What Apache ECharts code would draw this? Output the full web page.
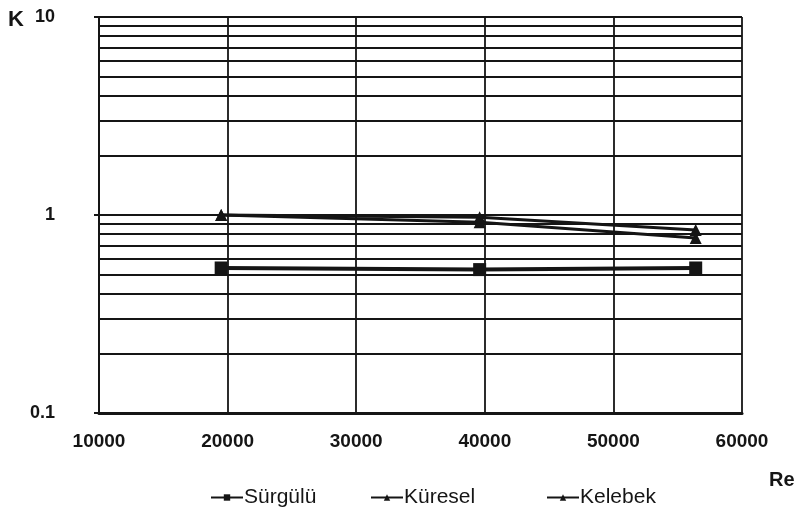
<!DOCTYPE html>
<html>
<head>
<meta charset="utf-8">
<script src="https://cdn.jsdelivr.net/npm/echarts@6/dist/echarts.min.js"></script>
<style>
  html, body { margin: 0; padding: 0; background: #fff; }
  #chart { width: 800px; height: 514px; }
</style>
</head>
<body>
<div id="chart"></div>
<script>
// Loss coefficient K against Reynolds number for three valve types
const reynolds = [19500, 39600, 56400];
const surgulu = [0.54, 0.53, 0.54];
const kuresel = [1.0, 0.92, 0.765];
const kelebek = [1.0, 0.975, 0.84];
const seriesNames = ['Sürgülü', 'Küresel', 'Kelebek'];
// Log-decade grid lines (2..9 in each decade)
const minorGrid = [0.2, 0.3, 0.4, 0.5, 0.6, 0.7, 0.8, 0.9, 2, 3, 4, 5, 6, 7, 8, 9];

const font = '"Liberation Sans", Arial, sans-serif';
const ink = '#151515';

const pairs = (ys) => reynolds.map((x, i) => [x, ys[i]]);

const legendLefts = [205, 365, 541];
const legendFor = (name, i) => ({
  left: legendLefts[i],
  top: 482,
  itemWidth: 32,
  itemHeight: 8,
  data: [name],
  textStyle: { color: ink, fontFamily: font, fontSize: 21, padding: [0, 0, 0, -4] }
});

const chart = echarts.init(document.getElementById('chart'), null, { renderer: 'canvas' });
chart.setOption({
  backgroundColor: '#ffffff',
  animation: false,
  grid: { left: 99, right: 58, top: 17, bottom: 101, show: false },
  xAxis: {
    type: 'value',
    min: 10000,
    max: 60000,
    interval: 10000,
    axisLine: { show: true, lineStyle: { color: ink, width: 3 } },
    axisTick: { show: false },
    splitLine: { show: true, lineStyle: { color: ink, width: 1.8 } },
    axisLabel: {
      margin: 19,
      color: ink,
      fontFamily: font,
      fontWeight: 'bold',
      fontSize: 19,
      formatter: (v) => String(v)
    }
  },
  yAxis: {
    type: 'log',
    logBase: 10,
    min: 0.1,
    max: 10,
    axisLine: { show: true, lineStyle: { color: ink, width: 2 } },
    axisTick: { show: true, length: 5, lineStyle: { color: ink, width: 2 } },
    splitLine: { show: true, lineStyle: { color: ink, width: 2 } },
    axisLabel: {
      margin: 44,
      color: ink,
      fontFamily: font,
      fontWeight: 'bold',
      fontSize: 18,
      formatter: (v) => String(v)
    }
  },
  legend: seriesNames.map(legendFor),
  graphic: [
    { type: 'text', left: 8, top: 9, style: { text: 'K', fill: ink, font: 'bold 22px "Liberation Sans", Arial, sans-serif' } },
    { type: 'text', left: 769, top: 470, style: { text: 'Re', fill: ink, font: 'bold 20px "Liberation Sans", Arial, sans-serif' } }
  ],
  series: [
    {
      name: seriesNames[0],
      type: 'line',
      data: pairs(surgulu),
      symbol: 'rect',
      symbolSize: 13,
      lineStyle: { color: ink, width: 4 },
      itemStyle: { color: ink },
      z: 5,
      markLine: {
        silent: true,
        symbol: 'none',
        label: { show: false },
        lineStyle: { color: ink, width: 1.8, type: 'solid' },
        data: minorGrid.map((v) => ({ yAxis: v }))
      }
    },
    {
      name: seriesNames[1],
      type: 'line',
      data: pairs(kuresel),
      symbol: 'triangle',
      symbolSize: 12,
      lineStyle: { color: ink, width: 3 },
      itemStyle: { color: ink },
      z: 6
    },
    {
      name: seriesNames[2],
      type: 'line',
      data: pairs(kelebek),
      symbol: 'triangle',
      symbolSize: 12,
      lineStyle: { color: ink, width: 3 },
      itemStyle: { color: ink },
      z: 7
    }
  ]
});
</script>
</body>
</html>
